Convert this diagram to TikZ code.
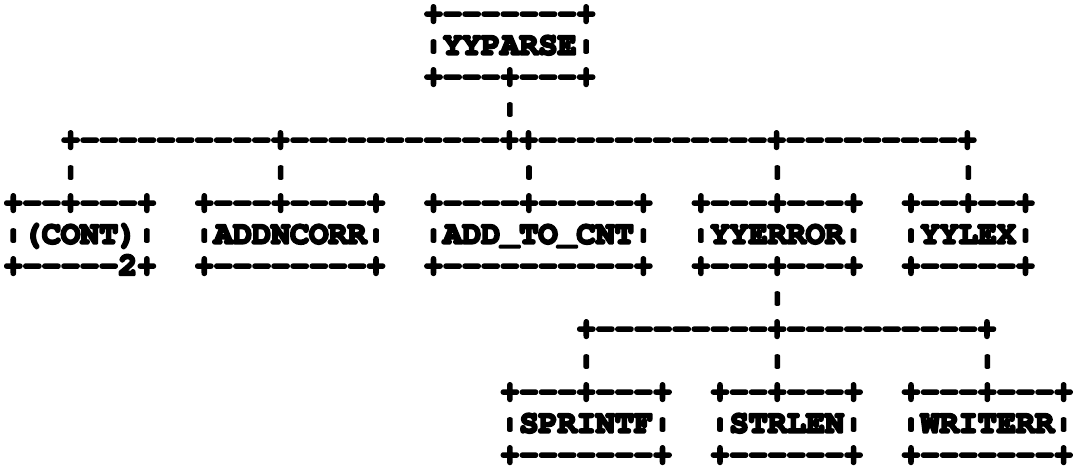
\documentclass[tikz,border=0pt]{standalone}
\usepackage[T1]{fontenc}
\usepackage{courier}
\usepackage{graphicx}
\usepackage{tikz}
\newcommand{\dashes}[1]{\foreach \k in {1,...,#1}{-{}}}
\newcommand{\pipe}{\raisebox{0.12em}{\scalebox{1}[0.55]{|}}}
\newcommand{\heavy}{\special{pdf:literal direct 2 Tr 1.8 w 1 j}}

\begin{document}
\begin{tikzpicture}[x=0.75pt,y=0.75pt,yscale=-1,xscale=1,
  ascii/.style={font=\ttfamily\bfseries\fontsize{23.85}{23.625}\selectfont\heavy, inner sep=0pt, outer sep=0pt, anchor=base west, align=left}]
\useasboundingbox (0,0) rectangle (1076,465);

%Shape: Box [id:yyparse]
\node[ascii] (yyparse) at (423.95,86) {+\dashes{7}+\\\pipe YYPARSE\pipe\\+\dashes{3}+\dashes{3}+};
%Straight Lines [id:c1]
\node[ascii] (c1) at (500.35,117.5) {\pipe};
%Straight Lines [id:bus1]
\node[ascii] (bus1) at (61.05,149) {+\dashes{10}+\dashes{11}++\dashes{12}+\dashes{9}+};
%Straight Lines [id:c2]
\node[ascii] (c2) at (61.05,180.5) {\pipe};
\node[ascii] (c3) at (271.15,180.5) {\pipe};
\node[ascii] (c4) at (519.45,180.5) {\pipe};
\node[ascii] (c5) at (767.75,180.5) {\pipe};
\node[ascii] (c6) at (958.75,180.5) {\pipe};

%Shape: Box [id:cont]
\node[ascii] (cont) at (3.75,275) {+\dashes{2}+\dashes{3}+\\\pipe(CONT)\pipe\\+\dashes{5}2+};
%Shape: Box [id:addncorr]
\node[ascii] (addncorr) at (194.75,275) {+\dashes{3}+\dashes{4}+\\\pipe ADDNCORR\pipe\\+\dashes{8}+};
%Shape: Box [id:addtocnt]
\node[ascii] (addtocnt) at (423.95,275) {+\dashes{4}+\dashes{5}+\\\pipe ADD\_TO\_CNT\pipe\\+\dashes{10}+};
%Shape: Box [id:yyerror]
\node[ascii] (yyerror) at (691.35,275) {+\dashes{3}+\dashes{3}+\\\pipe YYERROR\pipe\\+\dashes{3}+\dashes{3}+};
%Shape: Box [id:yylex]
\node[ascii] (yylex) at (901.45,275) {+\dashes{2}+\dashes{2}+\\\pipe YYLEX\pipe\\+\dashes{5}+};

%Straight Lines [id:c7]
\node[ascii] (c7) at (767.75,306.5) {\pipe};
%Straight Lines [id:bus2]
\node[ascii] (bus2) at (576.75,338) {+\dashes{9}+\dashes{10}+};
%Straight Lines [id:c8]
\node[ascii] (c8) at (576.75,369.5) {\pipe};
\node[ascii] (c9) at (767.75,369.5) {\pipe};
\node[ascii] (c10) at (977.85,369.5) {\pipe};

%Shape: Box [id:sprintf]
\node[ascii] (sprintf) at (500.35,464) {+\dashes{3}+\dashes{3}+\\\pipe SPRINTF\pipe\\+\dashes{7}+};
%Shape: Box [id:strlen]
\node[ascii] (strlen) at (710.45,464) {+\dashes{2}+\dashes{3}+\\\pipe STRLEN\pipe\\+\dashes{6}+};
%Shape: Box [id:writerr]
\node[ascii] (writerr) at (901.45,464) {+\dashes{3}+\dashes{3}+\\\pipe WRITERR\pipe\\+\dashes{7}+};

\end{tikzpicture}
\end{document}
